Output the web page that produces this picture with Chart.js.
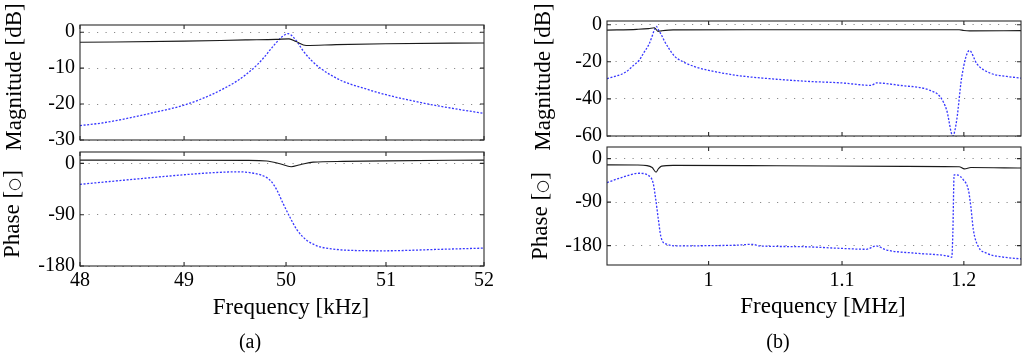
<!DOCTYPE html>
<html>
<head>
<meta charset="utf-8">
<script src="https://cdn.jsdelivr.net/npm/chart.js@4.4.1/dist/chart.umd.min.js"></script>
<style>
  html, body { margin: 0; padding: 0; background: #fff; }
  #page { position: relative; width: 1024px; height: 356px; overflow: hidden; background: #fff; }
  canvas { position: absolute; left: 0; top: 0; }
  .lbl { position: absolute; font-family: "Liberation Serif", "Times New Roman", serif; color: #000; white-space: nowrap; line-height: 1; }
  .ylab { font-size: 23px; transform: translate(-50%, -50%) rotate(-90deg); }
  .xlab { font-size: 23px; transform: translateX(-50%); }
  .cap { font-size: 20px; transform: translate(-50%, -50%); }
  .circ { font-family: "DejaVu Sans", sans-serif; font-size: 0.66em; }
</style>
</head>
<body>
<div id="page">
  <canvas id="cAmag" width="1024" height="356"></canvas>
  <canvas id="cAph" width="1024" height="356"></canvas>
  <canvas id="cBmag" width="1024" height="356"></canvas>
  <canvas id="cBph" width="1024" height="356"></canvas>

  <div class="lbl ylab" style="left:12.5px; top:77px;">Magnitude [dB]</div>
  <div class="lbl ylab" style="left:11px; top:214px;">Phase [<span class="circ">○</span>]</div>
  <div class="lbl xlab" style="left:291px; top:295px;">Frequency [kHz]</div>
  <div class="lbl cap" style="left:250px; top:341px;">(a)</div>

  <div class="lbl ylab" style="left:542px; top:77px;">Magnitude [dB]</div>
  <div class="lbl ylab" style="left:539px; top:216px;">Phase [<span class="circ">○</span>]</div>
  <div class="lbl xlab" style="left:823px; top:294px;">Frequency [MHz]</div>
  <div class="lbl cap" style="left:778px; top:341px;">(b)</div>
</div>
<script>
// ---------- Tick values ----------
const aFreqTicks = [48, 49, 50, 51, 52];          // kHz
const aMagTicks = [0, -10, -20, -30];             // dB
const aPhaseTicks = [0, -90, -180];               // deg
const bFreqTicks = [1, 1.1, 1.2];                 // MHz
const bMagTicks = [0, -20, -40, -60];             // dB
const bPhaseTicks = [0, -90, -180];               // deg

// ---------- (a) magnitude ----------
const aMagBlackF = [48, 49, 49.6, 49.9, 50.03, 50.1, 50.2, 50.5, 51, 52];
const aMagBlack  = [-2.8, -2.5, -2.15, -2.0, -1.85, -2.6, -3.7, -3.45, -3.2, -3.0];
const aMagBlueF = [48, 48.2, 48.45, 48.7, 49, 49.25, 49.4, 49.51, 49.6, 49.71, 49.78, 49.84, 49.9, 49.96, 50.02, 50.07, 50.12, 50.17, 50.25, 50.34, 50.45, 50.57, 50.8, 51, 51.2, 51.41, 51.7, 52];
const aMagBlue  = [-26.0, -25.3, -24.0, -22.4, -20.3, -17.6, -15.5, -13.7, -11.9, -9.2, -7.1, -5.0, -3.0, -1.3, -0.4, -1.3, -3.1, -5.2, -7.8, -10.0, -12.0, -13.7, -15.8, -17.4, -18.7, -19.9, -21.3, -22.6];

// ---------- (a) phase ----------
const aPhBlackF = [48, 49, 49.61, 49.81, 49.94, 50.05, 50.14, 50.27, 50.57, 51, 52];
const aPhBlack  = [5.8, 5.6, 5.3, 4.2, -0.6, -5.8, -2.3, 2.3, 3.5, 4.5, 5.8];
const aPhBlueF = [48, 48.3, 48.67, 49, 49.25, 49.4, 49.51, 49.6, 49.68, 49.75, 49.81, 49.86, 49.91, 49.97, 50.04, 50.11, 50.21, 50.27, 50.34, 50.45, 50.57, 51, 51.5, 52];
const aPhBlue  = [-36.7, -31.5, -25.2, -19.9, -16.6, -15.3, -14.7, -15.3, -17.3, -20.2, -25, -33, -47, -70, -95, -117, -135.5, -141.6, -146.5, -149.8, -152, -153.3, -151, -148.6];

// ---------- (b) magnitude ----------
const bMagBlackF = [0.93, 0.95, 0.958, 0.962, 0.9645, 0.967, 0.975, 1.05, 1.15, 1.196, 1.2, 1.205, 1.25];
const bMagBlack  = [-2.9, -2.5, -2.1, -1.6, -3.6, -3.3, -2.8, -2.7, -2.7, -2.7, -3.1, -3.3, -3.2];
const bMagBlueF = [0.93, 0.9426, 0.9475, 0.9515, 0.955, 0.9584, 0.9605, 0.9618, 0.9634, 0.9648, 0.9665, 0.969, 0.9722, 0.976, 0.9815, 0.99, 1.0, 1.0222, 1.0445, 1.0723, 1.1, 1.1232, 1.1274, 1.1463, 1.1714, 1.1799, 1.1854, 1.1906, 1.1939, 1.1982, 1.2048, 1.2112, 1.2228, 1.2375, 1.25];
const bMagBlue  = [-29.1, -25.5, -22.1, -19.3, -14.8, -10.4, -6.1, -3.2, -0.9, -2.8, -5.0, -8.9, -13.0, -17.0, -19.8, -22.6, -24.6, -27.5, -29.1, -30.5, -31.4, -32.7, -31.4, -32.7, -35.4, -38.9, -46.1, -60, -51.4, -28.2, -13.9, -21.1, -26.1, -27.9, -28.8];

// ---------- (b) phase ----------
const bPhBlackF = [0.93, 0.95, 0.957, 0.9605, 0.9632, 0.9648, 0.967, 0.975, 1.05, 1.15, 1.196, 1.2005, 1.206, 1.25];
const bPhBlack  = [-13, -13.3, -14.5, -18.5, -28, -21, -15.5, -14, -14.8, -16, -16.8, -21.3, -18.5, -19.5];
const bPhBlueF = [0.93, 0.9402, 0.9515, 0.9584, 0.9612, 0.963, 0.9648, 0.9665, 0.97, 0.9792, 1.0, 1.02, 1.032, 1.037, 1.0671, 1.0981, 1.1193, 1.1269, 1.1357, 1.1603, 1.1883, 1.1897, 1.1906, 1.1917, 1.1939, 1.1996, 1.2039, 1.206, 1.2082, 1.2125, 1.2198, 1.2316, 1.25];
const bPhBlue  = [-49.7, -38.6, -30.3, -35.8, -51, -85.5, -126.8, -161.4, -176.5, -180.6, -180, -179, -177.2, -180.6, -182, -185.5, -187.5, -180.6, -189, -195.8, -202.7, -204, -154, -33.7, -33.7, -44, -64.8, -99, -147.5, -182, -195.8, -202.7, -207.5];

// ---------- drawing helpers ----------
const BLACK = { color: '#1a1a1a', width: 1.1, dash: [] };
const BLUE  = { color: 'rgba(20,20,255,0.85)', width: 1.3, dash: [2, 1.6] };

const framePlugin = {
  id: 'frameTicks',
  afterDatasetsDraw(chart) {
    const { ctx, chartArea: a, scales } = chart;
    const x = scales.x, y = scales.y;
    const t = 4;
    ctx.save();
    ctx.strokeStyle = '#2a2a2a';
    ctx.lineWidth = 1.1;
    ctx.beginPath();
    x.ticks.forEach(tk => {
      const px = x.getPixelForValue(tk.value);
      ctx.moveTo(px, a.bottom); ctx.lineTo(px, a.bottom - t);
      ctx.moveTo(px, a.top); ctx.lineTo(px, a.top + t);
    });
    y.ticks.forEach(tk => {
      const py = y.getPixelForValue(tk.value);
      ctx.moveTo(a.left, py); ctx.lineTo(a.left + t, py);
      ctx.moveTo(a.right, py); ctx.lineTo(a.right - t, py);
    });
    ctx.stroke();
    ctx.strokeRect(a.left, a.top, a.right - a.left, a.bottom - a.top);
    ctx.restore();
  }
};

function series(xs, ys, style) {
  return {
    data: xs.map((v, i) => ({ x: v, y: ys[i] })),
    borderColor: style.color,
    borderWidth: style.width,
    borderDash: style.dash,
    pointRadius: 0,
    fill: false,
    cubicInterpolationMode: 'monotone'
  };
}

function panel(id, cfg) {
  const YW = 60;
  const tickFont = { family: 'Liberation Serif', size: 20 };
  return new Chart(document.getElementById(id), {
    type: 'line',
    data: { datasets: cfg.datasets },
    options: {
      responsive: false,
      animation: false,
      events: [],
      layout: { padding: { left: cfg.L - YW, top: cfg.T, right: 1024 - cfg.R, bottom: 356 - cfg.B - cfg.xh } },
      plugins: { legend: { display: false }, tooltip: { enabled: false }, title: { display: false } },
      scales: {
        x: {
          type: 'logarithmic',
          min: cfg.xMin, max: cfg.xMax, bounds: 'data',
          afterBuildTicks: s => { s.ticks = cfg.xTicks.map(v => ({ value: v })); },
          afterFit: s => { s.height = cfg.xh; s.paddingLeft = 0; s.paddingRight = 0; },
          grid: { display: false, drawTicks: false },
          border: { display: false },
          ticks: {
            display: cfg.showX, autoSkip: false, maxRotation: 0, minRotation: 0,
            padding: cfg.xpad, color: '#000', font: tickFont,
            callback: v => String(v)
          }
        },
        y: {
          type: 'linear',
          min: cfg.yMin, max: cfg.yMax, bounds: 'data',
          afterBuildTicks: s => { s.ticks = cfg.yTicks.map(v => ({ value: v })); },
          afterFit: s => { s.width = YW; s.paddingTop = 0; s.paddingBottom = 0; },
          grid: { display: true, drawTicks: false, color: '#8a8a8a', lineWidth: 1, borderDash: [1.2, 7.3] },
          border: { display: false, dash: [1.2, 7.3] },
          ticks: { padding: 5, color: '#000', font: tickFont, callback: v => String(v) }
        }
      }
    },
    plugins: [framePlugin]
  });
}

panel('cAmag', {
  L: 80, T: 25, R: 484, B: 140, xh: 0, xpad: 0, showX: false,
  xMin: 48, xMax: 52, xTicks: aFreqTicks,
  yMin: -30, yMax: 2, yTicks: aMagTicks,
  datasets: [series(aMagBlackF, aMagBlack, BLACK), series(aMagBlueF, aMagBlue, BLUE)]
});
panel('cAph', {
  L: 80, T: 152, R: 484, B: 266, xh: 40, xpad: 3, showX: true,
  xMin: 48, xMax: 52, xTicks: aFreqTicks,
  yMin: -180, yMax: 20, yTicks: aPhaseTicks,
  datasets: [series(aPhBlackF, aPhBlack, BLACK), series(aPhBlueF, aPhBlue, BLUE)]
});
panel('cBmag', {
  L: 607, T: 21, R: 1021, B: 136, xh: 0, xpad: 0, showX: false,
  xMin: 0.93, xMax: 1.25, xTicks: bFreqTicks,
  yMin: -60, yMax: 2, yTicks: bMagTicks,
  datasets: [series(bMagBlackF, bMagBlack, BLACK), series(bMagBlueF, bMagBlue, BLUE)]
});
panel('cBph', {
  L: 607, T: 147, R: 1021, B: 265, xh: 40, xpad: 4, showX: true,
  xMin: 0.93, xMax: 1.25, xTicks: bFreqTicks,
  yMin: -220, yMax: 24, yTicks: bPhaseTicks,
  datasets: [series(bPhBlackF, bPhBlack, BLACK), series(bPhBlueF, bPhBlue, BLUE)]
});
</script>
</body>
</html>
